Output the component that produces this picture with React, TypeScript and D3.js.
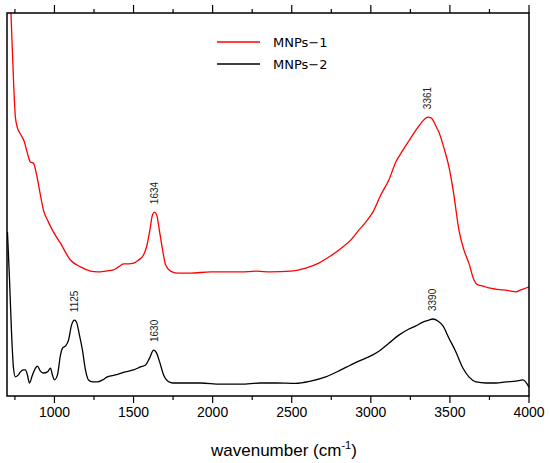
import React from "react";
import * as d3 from "d3";

const redWn = [725,741,753,766,785,810,829,848,867,886,911,930,962,987,1038,1101,1165,1228,1272,1323,1373,1405,1437,1468,1500,1532,1563,1582,1601,1620,1633,1646,1665,1684,1703,1734,1778,1861,1987,2177,2278,2367,2494,2589,2671,2747,2823,2873,2924,2968,3013,3063,3114,3158,3203,3253,3304,3335,3361,3380,3392,3411,3430,3462,3494,3525,3557,3589,3620,3652,3677,3709,3747,3791,3835,3886,3918,3949,3981,4000];
const redVal = [100,82.5,72.8,70.0,68.4,66.3,63.4,61.1,60.8,58.0,52.5,48.6,45.4,43.3,39.9,35.5,33.7,32.6,32.4,32.6,32.9,33.7,34.5,34.5,34.7,35.5,36.8,38.9,42.8,47.3,48.0,47.3,42.8,38.1,34.2,32.6,32.1,32.1,32.4,32.4,32.6,32.4,32.6,33.4,34.7,36.6,38.9,40.7,43.3,45.4,48.0,52.5,56.4,61.1,64.2,67.4,70.5,72.1,72.8,72.6,72.1,70.5,68.9,64.8,59.8,52.5,43.3,38.1,34.7,30.3,29.0,28.7,28.2,27.9,27.7,27.4,27.2,27.7,28.2,28.5];

const blackWn = [703,716,728,741,753,772,785,804,816,829,842,861,880,892,911,930,956,975,987,1000,1019,1038,1051,1070,1089,1108,1127,1139,1158,1177,1196,1215,1241,1272,1304,1335,1386,1449,1500,1544,1576,1601,1627,1646,1665,1690,1715,1747,1829,1924,2051,2177,2304,2399,2525,2620,2715,2810,2873,2924,2987,3051,3114,3177,3241,3285,3329,3367,3392,3424,3456,3494,3538,3582,3620,3665,3728,3791,3854,3918,3962,4000];
const blackVal = [42.8,30.3,17.2,7.3,5.0,5.5,6.3,6.8,6.8,5.5,3.4,5.5,7.3,7.8,6.5,6.0,6.3,7.3,5.5,4.2,5.5,10.7,12.5,13.1,14.6,18.5,19.8,19.3,15.9,12.0,6.8,4.2,3.7,3.7,4.2,5.0,5.5,6.3,6.8,7.6,8.1,9.9,12.0,11.2,8.9,5.5,3.9,3.4,3.4,3.4,3.1,3.1,3.4,3.4,3.3,3.9,5.0,6.8,8.1,9.1,10.2,11.7,13.8,15.9,17.5,18.3,19.3,19.8,20.1,19.6,18.3,15.1,11.5,7.3,5.0,3.7,3.4,3.4,3.7,3.9,4.2,2.3];

const peakLabels = ["1634", "3361", "1125", "1630", "3390"];
const peakWn = [1634, 3361, 1125, 1630, 3390];
const peakVal = [48.0, 72.8, 19.8, 12.0, 20.1];

const majorTicks = [1000, 1500, 2000, 2500, 3000, 3500, 4000];
const minorTicks = [750, 1250, 1750, 2250, 2750, 3250, 3750];

const seriesNames = ["MNPs\u22121", "MNPs\u22122"];
const seriesColors = ["#ff0000", "#000000"];

export default function App() {
  const W = 550, H = 463;
  const left = 7, right = 529, top = 13, bottom = 396;
  const x = d3.scaleLinear().domain([700, 4000]).range([left, right]);
  const y = d3.scaleLinear().domain([0, 100]).range([bottom, top]);
  const line = d3.line<[number, number]>().x(d => x(d[0])).y(d => y(d[1])).curve(d3.curveMonotoneX);
  const redPts = redWn.map((w, i) => [w, redVal[i]] as [number, number]);
  const blackPts = blackWn.map((w, i) => [w, blackVal[i]] as [number, number]);
  const font = "'Liberation Sans', Arial, sans-serif";
  return (
    <svg width={W} height={H} style={{ position: "absolute", left: 0, top: 0, background: "#fff" }}>
      <defs>
        <clipPath id="plot"><rect x={left} y={top} width={right - left} height={bottom - top} /></clipPath>
      </defs>
      <g clipPath="url(#plot)" fill="none" strokeWidth={1.3} strokeLinejoin="round">
        <path d={line(redPts) || ""} stroke={seriesColors[0]} />
        <path d={line(blackPts) || ""} stroke={seriesColors[1]} />
      </g>
      <rect x={left} y={top} width={right - left} height={bottom - top} fill="none" stroke="#000" strokeWidth={1.5} />
      {majorTicks.map(t => (
        <g key={"M" + t}>
          <line x1={x(t)} x2={x(t)} y1={bottom} y2={bottom + 7} stroke="#000" strokeWidth={1.2} />
          <line x1={x(t)} x2={x(t)} y1={top} y2={top - 8} stroke="#000" strokeWidth={1.2} />
          <text x={x(t)} y={417} textAnchor="middle" fontFamily={font} fontSize={14} fill="#000">{t}</text>
        </g>
      ))}
      {minorTicks.map(t => (
        <g key={"m" + t}>
          <line x1={x(t)} x2={x(t)} y1={bottom} y2={bottom + 4} stroke="#000" strokeWidth={1.2} />
          <line x1={x(t)} x2={x(t)} y1={top} y2={top - 4} stroke="#000" strokeWidth={1.2} />
        </g>
      ))}
      <text x={211} y={456} fontFamily={font} fontSize={17} fill="#000">
        wavenumber (cm<tspan dy={-7} fontSize={11}>-1</tspan><tspan dy={7}>)</tspan>
      </text>
      {peakLabels.map((lab, i) => {
        const px = x(peakWn[i]) + 3.5;
        const py = y(peakVal[i]) - 8;
        return (
          <text key={lab} transform={`translate(${px},${py}) rotate(-90)`} fontFamily={font} fontSize={10} fill="#222">{lab}</text>
        );
      })}
      {seriesNames.map((n, i) => (
        <g key={n}>
          <line x1={217} x2={260} y1={42 + i * 22} y2={42 + i * 22} stroke={seriesColors[i]} strokeWidth={1.5} />
          <text x={273} y={47 + i * 22} fontFamily="'DejaVu Sans', sans-serif" fontSize={13} fill="#000">{n}</text>
        </g>
      ))}
    </svg>
  );
}
